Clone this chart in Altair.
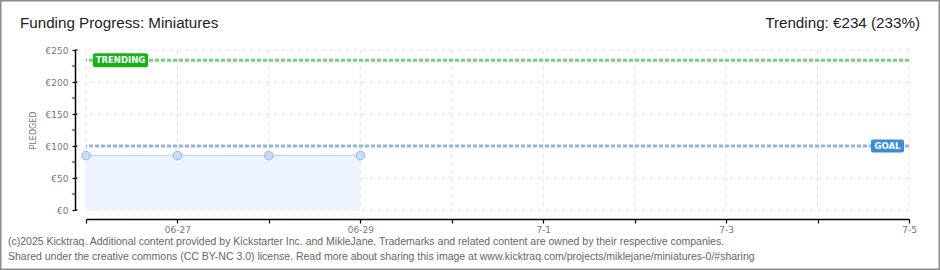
import altair as alt
import pandas as pd

# ---- data ----
dates = ["2025-06-26", "2025-06-27", "2025-06-28", "2025-06-29"]
pledged = [85, 85, 85, 85]
goal_value = 100
trending_value = 234
axis_days = ["2025-06-26", "2025-06-27", "2025-06-28", "2025-06-29", "2025-06-30",
             "2025-07-01", "2025-07-02", "2025-07-03", "2025-07-04", "2025-07-05"]
axis_day_labels = ["", "06-27", "", "06-29", "", "7-1", "", "7-3", "", "7-5"]
y_major = [0, 50, 100, 150, 200, 250]
y_minor = [25, 75, 125, 175, 225]
title_text = "Funding Progress: Miniatures"
trend_text = "Trending: \u20ac234 (233%)"
footer_lines = [
    "(c)2025 Kicktraq. Additional content provided by Kickstarter Inc. and MikleJane. Trademarks and related content are owned by their respective companies.",
    "Shared under the creative commons (CC BY-NC 3.0) license. Read more about sharing this image at www.kicktraq.com/projects/miklejane/miniatures-0/#sharing",
]

FONT = "Liberation Sans"

def dt(s):
    y, m, d = (int(v) for v in s.split("-"))
    return alt.DateTime(year=y, month=m, date=d, utc=True)

xscale = alt.Scale(type="utc", domain=[dt(axis_days[0]), dt(axis_days[-1])])
yscale = alt.Scale(domain=[0, 250], nice=False)

# label expression built from the lists
expr = "''"
for d, lab in zip(axis_days, axis_day_labels):
    if lab:
        expr = f"utcFormat(datum.value, '%Y-%m-%d') == '{d}' ? '{lab}' : ({expr})"

xaxis = alt.Axis(
    values=[dt(d) for d in axis_days], labelExpr=expr, title=None, grid=False,
    offset=9, domainColor="#000000", domainWidth=1.5, tickColor="#000000",
    tickSize=4, tickWidth=1.2, labelColor="#777777", labelFont="DejaVu Sans",
    labelFontSize=9, labelPadding=2, labelFlush=False)
yaxis = alt.Axis(
    values=y_major, labelExpr="'\u20ac' + datum.value", title="PLEDGED", grid=False,
    offset=11, domainColor="#000000", domainWidth=1.5, tickColor="#000000",
    tickSize=3, tickWidth=1.2, labelColor="#777777", labelFont="DejaVu Sans",
    labelFontSize=9, labelPadding=4, titleFont="DejaVu Sans", titleFontSize=8,
    titleFontWeight="normal", titleColor="#777777", titlePadding=8)

def X():
    return alt.X("date:T", scale=xscale, axis=xaxis, title=None)

def Y(field):
    return alt.Y(field, scale=yscale, axis=yaxis, title="PLEDGED")

df = pd.DataFrame({"date": dates, "pledged": pledged})
grid_x = pd.DataFrame({"date": axis_days})
grid_y = pd.DataFrame({"v": y_major})
minor_y = pd.DataFrame({"v": y_minor})
goal_df = pd.DataFrame({"v": [goal_value], "lab": ["GOAL"]})
trend_df = pd.DataFrame({"v": [trending_value], "lab": ["TRENDING"]})

vgrid = alt.Chart(grid_x).mark_rule(color="#e3e3e3", strokeDash=[4, 4], strokeWidth=1).encode(x=X())
hgrid = alt.Chart(grid_y).mark_rule(color="#e3e3e3", strokeDash=[4, 4], strokeWidth=1).encode(y=Y("v:Q"))

area = alt.Chart(df).mark_area(color="#edf4fd", opacity=1).encode(x=X(), y=Y("pledged:Q"))
line = alt.Chart(df).mark_line(color="#c5d9ef", strokeWidth=1.5).encode(x=X(), y=Y("pledged:Q"))
points = alt.Chart(df).mark_point(filled=True, fill="#c6ddf7", stroke="#98b8de",
                                  strokeWidth=1, size=75, opacity=1).encode(x=X(), y=Y("pledged:Q"))

goal_rule = alt.Chart(goal_df).mark_rule(color="#93b4dd", strokeDash=[4, 2], strokeWidth=3).encode(y=Y("v:Q"))
trend_rule = alt.Chart(trend_df).mark_rule(color="#76d276", strokeDash=[4, 2], strokeWidth=3).encode(y=Y("v:Q"))

trend_box = alt.Chart(trend_df).mark_rect(color="#17b417", cornerRadius=2, yOffset=-7, y2Offset=7).encode(
    y=Y("v:Q"), y2="v:Q", x=alt.value(7), x2=alt.value(62))
trend_lab = alt.Chart(trend_df).mark_text(color="white", font="DejaVu Sans", fontSize=8.5,
                                          fontWeight="bold", align="center", baseline="middle").encode(
    y=Y("v:Q"), x=alt.value(34.5), text="lab:N")
goal_box = alt.Chart(goal_df).mark_rect(color="#3a8ddc", cornerRadius=2, yOffset=-6.5, y2Offset=6.5).encode(
    y=Y("v:Q"), y2="v:Q", x=alt.value(785), x2=alt.value(818))
goal_lab = alt.Chart(goal_df).mark_text(color="white", font="DejaVu Sans", fontSize=8.5,
                                        fontWeight="bold", align="center", baseline="middle").encode(
    y=Y("v:Q"), x=alt.value(801.5), text="lab:N")

minor_ticks = alt.Chart(minor_y).mark_rule(color="#e00000", strokeWidth=1.2).encode(
    y=Y("v:Q"), x=alt.value(-14), x2=alt.value(-11))
inner_ticks = alt.Chart(grid_y).mark_rule(color="#000000", strokeWidth=1.2).encode(
    y=Y("v:Q"), x=alt.value(-11), x2=alt.value(-8.5))

title = alt.Chart(pd.DataFrame({"t": [title_text]})).mark_text(
    font=FONT, fontSize=15.2, color="#222222", align="left", baseline="alphabetic").encode(
    text="t:N", x=alt.value(-66), y=alt.value(-22))
trend_title = alt.Chart(pd.DataFrame({"t": [trend_text]})).mark_text(
    font=FONT, fontSize=15.2, color="#222222", align="right", baseline="alphabetic").encode(
    text="t:N", x=alt.value(834), y=alt.value(-22))
foot1 = alt.Chart(pd.DataFrame({"t": [footer_lines[0]]})).mark_text(
    font=FONT, fontSize=10.5, color="#666666", align="left", baseline="middle").encode(
    text="t:N", x=alt.value(-78), y=alt.value(192))
foot2 = alt.Chart(pd.DataFrame({"t": [footer_lines[1]]})).mark_text(
    font=FONT, fontSize=10.5, color="#666666", align="left", baseline="middle").encode(
    text="t:N", x=alt.value(-78), y=alt.value(207))
frame = alt.Chart(pd.DataFrame({"t": [0]})).mark_rect(
    fill=None, filled=False, stroke="#8c8c8c", strokeWidth=1.5).encode(
    x=alt.value(-85.25), x2=alt.value(853.25), y=alt.value(-49.25), y2=alt.value(219.25))

chart = alt.layer(
    vgrid, hgrid, area, line, goal_rule, trend_rule, points,
    trend_box, trend_lab, goal_box, goal_lab, minor_ticks, inner_ticks,
    title, trend_title, foot1, foot2, frame,
).properties(
    width=823, height=160,
    padding={"left": 86, "top": 50, "right": 31, "bottom": 60},
    autosize=alt.AutoSizeParams(type="none"),
    background="white",
).configure_view(stroke=None)

chart.save("out.html", embed_options={"renderer": "svg", "actions": False})
